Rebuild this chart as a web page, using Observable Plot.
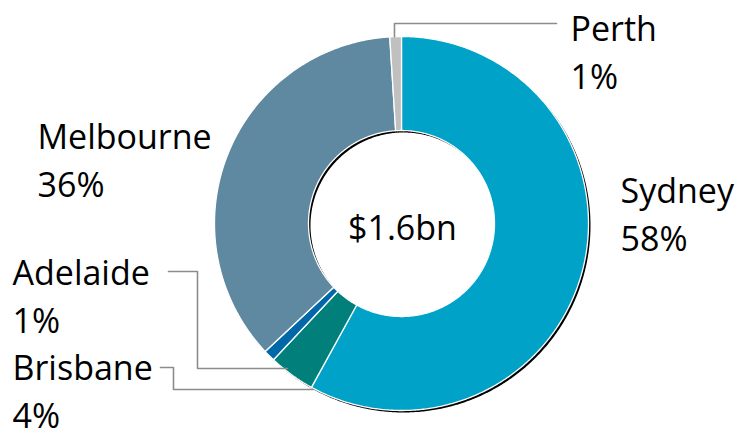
<!DOCTYPE html>
<html><head><meta charset="utf-8">
<script src="https://cdn.jsdelivr.net/npm/d3@7"></script>
<script src="https://cdn.jsdelivr.net/npm/@observablehq/plot@0.6"></script>
<style>html,body{margin:0;padding:0;background:#fff;overflow:hidden}#chart{width:738px;height:428px}</style>
</head><body><div id="chart"></div>
<script>
// ---- data ----
const cities = ["Sydney", "Brisbane", "Adelaide", "Melbourne", "Perth"];
const shares = [58, 4, 1, 36, 1];
const percentLabels = ["58%", "4%", "1%", "36%", "1%"];
const totalLabel = "$1.6bn";

// ---- styles / layout (kept apart from data) ----
const sliceColors = ["#00A2C7", "#007F7B", "#0068A8", "#5F88A1", "#C0C0C0"];
const W = 738, H = 428, CX = 401, CY = 223, R_OUT = 187, R_IN = 93;
const FONT = 34, LINE_H = 1.42, CAP = 0.71;
const labelLayout = {
  Sydney:    {x: 620, base: 202},
  Brisbane:  {x: 12,  base: 379},
  Adelaide:  {x: 12,  base: 284},
  Melbourne: {x: 37,  base: 148},
  Perth:     {x: 570, base: 40}
};
const leaderLayout = {
  Perth:    {angle: 357.85, r: 187,   elbows: [[556, 23], [394, 23]]},
  Adelaide: {angle: 218.2,  r: 184.5, elbows: [[168, 271], [197, 271], [197, 368]]},
  Brisbane: {angle: 207.93, r: 187.9, elbows: [[160, 367], [173, 367], [173, 389]]}
};
const px = v => v - CX;        // pixel x -> data x
const py = v => CY - v;        // pixel y -> data y (y up)

const rows = cities.map((c, i) => ({city: c, share: shares[i], pct: percentLabels[i]}));
const arcs = d3.pie().sort(null).value(d => d.share)(rows);

const ring = [];
arcs.forEach(p => {
  const a0 = p.startAngle, a1 = p.endAngle;
  const n = Math.max(2, Math.ceil((a1 - a0) / (Math.PI / 360)));
  for (let i = 0; i <= n; i++) {
    const a = a0 + (a1 - a0) * i / n;
    ring.push({city: p.data.city, x: R_OUT * Math.sin(a), y: R_OUT * Math.cos(a)});
  }
  for (let i = n; i >= 0; i--) {
    const a = a0 + (a1 - a0) * i / n;
    ring.push({city: p.data.city, x: R_IN * Math.sin(a), y: R_IN * Math.cos(a)});
  }
});

const leaders = [];
Object.entries(leaderLayout).forEach(([city, L]) => {
  L.elbows.forEach(([ex, ey]) => leaders.push({city, x: px(ex), y: py(ey)}));
  const a = L.angle * Math.PI / 180;
  leaders.push({city, x: L.r * Math.sin(a), y: L.r * Math.cos(a)});
});

// multi-line "top" anchor: first baseline sits CAP*lineHeight em below y
const labels = rows.map(d => ({
  text: d.city + "\n" + d.pct,
  x: px(labelLayout[d.city].x),
  y: py(labelLayout[d.city].base - CAP * LINE_H * FONT)
}));
const center = [{text: totalLabel, x: px(402), y: py(239 - CAP * FONT)}];

const chart = Plot.plot({
  width: W, height: H, margin: 0,
  x: {domain: [-CX, W - CX], axis: null},
  y: {domain: [-(H - CY), CY], axis: null},
  color: {domain: cities, range: sliceColors},
  style: {fontFamily: "'Open Sans', sans-serif", background: "#fff", color: "#000"},
  marks: [
    Plot.line(ring, {x: "x", y: "y", z: "city", fill: "#000", stroke: "none", curve: "linear-closed", dx: 2, dy: 2}),
    Plot.line(ring, {x: "x", y: "y", z: "city", fill: "city", stroke: "#fff", strokeWidth: 1.3, curve: "linear-closed"}),
    Plot.line(leaders, {x: "x", y: "y", z: "city", stroke: "#8c8c8c", strokeWidth: 1.6}),
    Plot.text(labels, {x: "x", y: "y", text: "text", textAnchor: "start", lineAnchor: "top", fontSize: FONT, lineHeight: LINE_H, fill: "#000"}),
    Plot.text(center, {x: "x", y: "y", text: "text", textAnchor: "middle", lineAnchor: "top", fontSize: FONT, fill: "#000"})
  ]
});
document.getElementById("chart").appendChild(chart);
</script>
</body></html>
